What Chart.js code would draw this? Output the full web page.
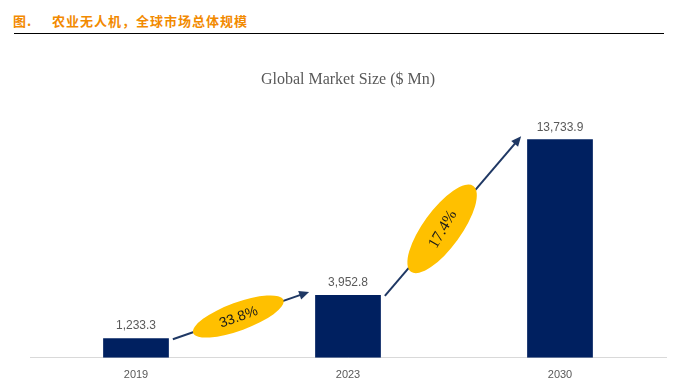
<!DOCTYPE html>
<html>
<head>
<meta charset="utf-8">
<script src="https://cdn.jsdelivr.net/npm/chart.js@4.4.1/dist/chart.umd.min.js"></script>
<style>
    html, body { margin: 0; padding: 0; background: #fff; }
    #wrap { position: relative; width: 686px; height: 390px; }
    #header {
        position: absolute; left: 13px; top: 12px;
        font-family: "Noto Sans CJK SC", sans-serif; font-size: 13px; font-weight: 700;
        color: #f28a00; letter-spacing: 1px; line-height: 18px; white-space: pre;
    }
    #rule { position: absolute; left: 14px; top: 33px; width: 650px; height: 0; border-top: 1.5px solid #000; }
    canvas { position: absolute; left: 0; top: 0; }
</style>
</head>
<body>
<div id="wrap">
    <div id="header">图.     农业无人机，全球市场总体规模</div>
    <div id="rule"></div>
    <canvas id="marketChart" width="686" height="390"></canvas>
</div>
<script>
// Chart data
const years = ["2019", "2023", "2030"];
const marketSize = [1233.3, 3952.8, 13733.9];
const growthRates = ["33.8%", "17.4%"];

const barColor = "#002060";
const labelGray = "#595959";

// Value labels over the bars
const valueLabels = {
    id: "valueLabels",
    afterDatasetsDraw(chart) {
        const ctx = chart.ctx;
        const bars = chart.getDatasetMeta(0).data;
        ctx.save();
        ctx.font = "12px 'Liberation Sans', Arial, sans-serif";
        ctx.fillStyle = labelGray;
        ctx.textAlign = "center";
        ctx.textBaseline = "bottom";
        bars.forEach((bar, i) => {
            const txt = marketSize[i].toLocaleString("en-US", { minimumFractionDigits: 1, maximumFractionDigits: 1 });
            ctx.fillText(txt, bar.x, bar.y - 6);
        });
        ctx.restore();
    }
};

// CAGR arrows + yellow ellipses between bars
const growthArrows = {
    id: "growthArrows",
    afterDatasetsDraw(chart) {
        const ctx = chart.ctx;
        const bars = chart.getDatasetMeta(0).data;
        // ellipse shape for each arrow: [position along arrow, rx, ry, rotation deg, font]
        const shapes = [
            [0.48, 48, 14, -20, "14px 'Liberation Sans', Arial, sans-serif"],
            [0.42, 53, 19, -54, "16px 'Liberation Serif', 'Times New Roman', serif"]
        ];
        ctx.save();
        for (let i = 0; i < bars.length - 1; i++) {
            const a = bars[i], b = bars[i + 1];
            const x1 = a.x + a.width / 2 + 4, y1 = a.y + 1;
            const x2 = b.x - b.width / 2 - 6, y2 = b.y - 3;
            const ang = Math.atan2(y2 - y1, x2 - x1);

            // arrow line
            ctx.strokeStyle = "#1f3864";
            ctx.fillStyle = "#1f3864";
            ctx.lineWidth = 2;
            ctx.beginPath();
            ctx.moveTo(x1, y1);
            ctx.lineTo(x2 - 6 * Math.cos(ang), y2 - 6 * Math.sin(ang));
            ctx.stroke();
            // arrow head
            ctx.beginPath();
            ctx.moveTo(x2, y2);
            ctx.lineTo(x2 - 10 * Math.cos(ang) + 4.5 * Math.sin(ang), y2 - 10 * Math.sin(ang) - 4.5 * Math.cos(ang));
            ctx.lineTo(x2 - 10 * Math.cos(ang) - 4.5 * Math.sin(ang), y2 - 10 * Math.sin(ang) + 4.5 * Math.cos(ang));
            ctx.closePath();
            ctx.fill();

            // ellipse
            const s = shapes[i];
            const cx = x1 + (x2 - x1) * s[0];
            const cy = y1 + (y2 - y1) * s[0];
            const rot = s[3] * Math.PI / 180;
            ctx.fillStyle = "#ffc000";
            ctx.beginPath();
            ctx.ellipse(cx, cy, s[1], s[2], rot, 0, Math.PI * 2);
            ctx.fill();

            // rate text
            ctx.save();
            ctx.translate(cx, cy);
            ctx.rotate(i === 1 ? rot - 0.1 : rot);
            ctx.font = s[4];
            ctx.fillStyle = "#1a1a1a";
            ctx.textAlign = "center";
            ctx.textBaseline = "middle";
            ctx.fillText(growthRates[i], 0, 1);
            ctx.restore();
        }
        ctx.restore();
    }
};

const ctx = document.getElementById("marketChart").getContext("2d");
new Chart(ctx, {
    type: "bar",
    data: {
        labels: years,
        datasets: [{
            label: "Global Market Size ($ Mn)",
            data: marketSize,
            backgroundColor: barColor,
            barPercentage: 0.31,
            categoryPercentage: 1.0
        }]
    },
    options: {
        responsive: false,
        animation: false,
        layout: {
            padding: { left: 30, right: 20, top: 0, bottom: -3 }
        },
        scales: {
            x: {
                grid: { display: false, drawTicks: false },
                border: { display: true, color: "#d9d9d9", width: 1 },
                ticks: {
                    color: labelGray,
                    padding: 11,
                    font: { family: "'Liberation Sans', Arial, sans-serif", size: 11 }
                }
            },
            y: {
                display: false,
                min: 0,
                max: 15000
            }
        },
        plugins: {
            legend: { display: false },
            tooltip: { enabled: false },
            title: {
                display: true,
                text: "Global Market Size ($ Mn)",
                color: labelGray,
                font: { family: "'Liberation Serif', 'Times New Roman', serif", size: 16, weight: "normal" },
                padding: { top: 70, bottom: 30 }
            }
        }
    },
    plugins: [valueLabels, growthArrows]
});
</script>
</body>
</html>
